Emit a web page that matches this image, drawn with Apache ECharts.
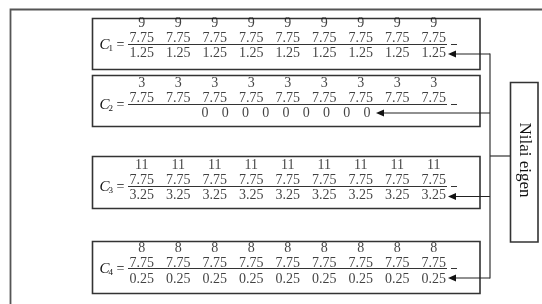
<!DOCTYPE html>
<html>
<head>
<meta charset="utf-8">
<script src="https://cdn.jsdelivr.net/npm/echarts@6/dist/echarts.min.js"></script>
<style>
html, body { margin: 0; padding: 0; background: #fff; }
#main { width: 542px; height: 304px; }
</style>
</head>
<body>
<div id="main"></div>
<script>
// kolom dan baris matriks
var cols = ['k1', 'k2', 'k3', 'k4', 'k5', 'k6', 'k7', 'k8', 'k9'];
var rows = ['atas', 'pembilang', 'penyebut'];

// C1
var c1Top = [9, 9, 9, 9, 9, 9, 9, 9, 9];
var c1Num = ['7.75', '7.75', '7.75', '7.75', '7.75', '7.75', '7.75', '7.75', '7.75'];
var c1Den = ['1.25', '1.25', '1.25', '1.25', '1.25', '1.25', '1.25', '1.25', '1.25'];
// C2
var c2Top = [3, 3, 3, 3, 3, 3, 3, 3, 3];
var c2Num = ['7.75', '7.75', '7.75', '7.75', '7.75', '7.75', '7.75', '7.75', '7.75'];
var c2Den = [0, 0, 0, 0, 0, 0, 0, 0, 0];
// C3
var c3Top = [11, 11, 11, 11, 11, 11, 11, 11, 11];
var c3Num = ['7.75', '7.75', '7.75', '7.75', '7.75', '7.75', '7.75', '7.75', '7.75'];
var c3Den = ['3.25', '3.25', '3.25', '3.25', '3.25', '3.25', '3.25', '3.25', '3.25'];
// C4
var c4Top = [8, 8, 8, 8, 8, 8, 8, 8, 8];
var c4Num = ['7.75', '7.75', '7.75', '7.75', '7.75', '7.75', '7.75', '7.75', '7.75'];
var c4Den = ['0.25', '0.25', '0.25', '0.25', '0.25', '0.25', '0.25', '0.25', '0.25'];

var matLabels = ['1', '2', '3', '4'];
var eigenLabel = 'Nilai eigen';

var ink = '#111';
var lineCol = '#333';
var numFont = "'Liberation Serif', 'DejaVu Serif', serif";

var myChart = echarts.init(document.getElementById('main'), null, {renderer: 'canvas'});

// satu baris angka sebagai scatter tanpa simbol
function rowSeries(values, rowName, idx) {
    return {
        type: 'scatter',
        xAxisIndex: idx,
        yAxisIndex: idx,
        symbol: 'circle',
        symbolSize: 1,
        itemStyle: {color: 'rgba(0,0,0,0)'},
        silent: true,
        label: {
            show: true,
            position: 'inside',
            color: ink,
            fontFamily: numFont,
            fontSize: 14,
            formatter: function (p) { return String(p.value[2]); }
        },
        data: values.map(function (v, i) { return [i, rowName, v]; })
    };
}

// posisi blok (grid) tiap matriks
var blockTops = [15.3, 75.5, 157.3, 240.5];
var grids = blockTops.map(function (t) {
    return {left: 123.5, width: 328.5, top: t, height: 46};
});
// baris nol C2 lebih rapat
grids.push({left: 195, width: 182, top: 105.5, height: 15});

var xAxes = grids.map(function (g, i) {
    return {type: 'category', gridIndex: i, data: cols, show: false, boundaryGap: true};
});
var yAxes = grids.map(function (g, i) {
    return {type: 'category', gridIndex: i, data: i < 4 ? rows : ['penyebut'], inverse: true, show: false, boundaryGap: true};
});

var series = [
    rowSeries(c1Top, 'atas', 0), rowSeries(c1Num, 'pembilang', 0), rowSeries(c1Den, 'penyebut', 0),
    rowSeries(c2Top, 'atas', 1), rowSeries(c2Num, 'pembilang', 1), rowSeries(c2Den, 'penyebut', 4),
    rowSeries(c3Top, 'atas', 2), rowSeries(c3Num, 'pembilang', 2), rowSeries(c3Den, 'penyebut', 2),
    rowSeries(c4Top, 'atas', 3), rowSeries(c4Num, 'pembilang', 3), rowSeries(c4Den, 'penyebut', 3)
];

// kotak, garis pecahan, panah
var boxes = [[18, 51], [75, 51], [156, 52], [241, 52]];
var barsY = [44.5, 104.5, 186.5, 268.5];
var arrows = [[54, 448], [113, 376], [196.5, 448], [278, 448]];

var graphics = [];
graphics.push({
    type: 'polyline', silent: true,
    shape: {points: [[10.5, 310], [10.5, 9.5], [545, 9.5]]},
    style: {stroke: '#555', lineWidth: 1.8, fill: null}
});
boxes.forEach(function (b, i) {
    graphics.push({
        type: 'rect', silent: true,
        shape: {x: 92.5, y: b[0] + 0.5, width: 387.5, height: b[1]},
        style: {stroke: lineCol, lineWidth: 1.6, fill: null}
    });
    var by = barsY[i];
    graphics.push({type: 'line', silent: true, shape: {x1: 128, y1: by, x2: 447, y2: by}, style: {stroke: '#333', lineWidth: 1}});
    graphics.push({type: 'line', silent: true, shape: {x1: 451, y1: by, x2: 457, y2: by}, style: {stroke: '#333', lineWidth: 1}});
    graphics.push({
        type: 'text', silent: true, x: 99.5, y: by + 1,
        style: {text: 'C', font: "italic 15px 'Liberation Serif', serif", fill: ink, verticalAlign: 'middle', align: 'left'}
    });
    graphics.push({
        type: 'text', silent: true, x: 108.5, y: by + 4,
        style: {text: matLabels[i], font: "9px 'Liberation Serif', serif", fill: ink, verticalAlign: 'middle', align: 'left'}
    });
    graphics.push({
        type: 'text', silent: true, x: 120.5, y: by + 0.5,
        style: {text: '=', font: "14px 'Liberation Serif', serif", fill: ink, verticalAlign: 'middle', align: 'center'}
    });
});
arrows.forEach(function (a) {
    graphics.push({type: 'line', silent: true, shape: {x1: 490, y1: a[0], x2: a[1] + 6, y2: a[0]}, style: {stroke: '#222', lineWidth: 1.1}});
    graphics.push({
        type: 'polygon', silent: true,
        shape: {points: [[a[1], a[0]], [a[1] + 8, a[0] - 3.5], [a[1] + 8, a[0] + 3.5]]},
        style: {fill: '#111'}
    });
});
graphics.push({type: 'line', silent: true, shape: {x1: 490, y1: 53.5, x2: 490, y2: 278.5}, style: {stroke: '#333', lineWidth: 1.2}});
graphics.push({type: 'line', silent: true, shape: {x1: 490, y1: 156, x2: 510, y2: 156}, style: {stroke: '#333', lineWidth: 1.2}});
graphics.push({
    type: 'rect', silent: true,
    shape: {x: 510.5, y: 82.5, width: 27.5, height: 159.5},
    style: {stroke: lineCol, lineWidth: 1.6, fill: null}
});
graphics.push({
    type: 'text', silent: true, x: 524, y: 160, rotation: -Math.PI / 2,
    style: {text: eigenLabel, font: "17px 'Liberation Serif', serif", fill: '#111', align: 'center', verticalAlign: 'middle'}
});

var option = {
    backgroundColor: '#fff',
    animation: false,
    grid: grids,
    xAxis: xAxes,
    yAxis: yAxes,
    series: series,
    graphic: graphics
};

myChart.setOption(option);
</script>
</body>
</html>
